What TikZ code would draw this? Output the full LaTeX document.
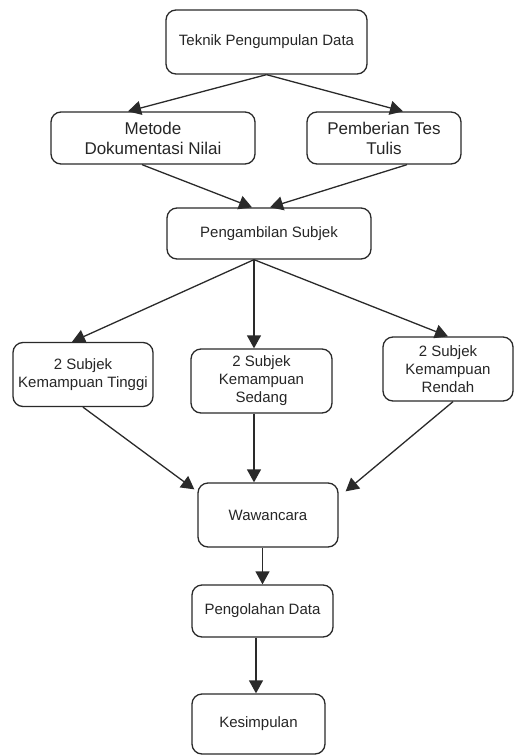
\documentclass[tikz,border=0pt]{standalone}
\usepackage{fontspec}
\setmainfont{Liberation Sans}
\usepackage{tikz}
\usetikzlibrary{arrows.meta}
\definecolor{edgegray}{HTML}{2A2A2A}
\definecolor{txtgray}{HTML}{262626}

\begin{document}
\begin{tikzpicture}[x=1pt, y=-1pt, -{Triangle[length=13pt,width=14pt]}, line width=1.3pt, draw=edgegray]
	\useasboundingbox (0,0) rectangle (514,756);
	\tikzstyle{box}=[rectangle, rounded corners=10pt, draw=edgegray, line width=1.3pt, fill=white, align=center, inner sep=2pt, text=txtgray, font=\fontsize{15}{18}\selectfont]
	\tikzstyle{big}=[font=\fontsize{17}{20}\selectfont]
	% top part
	\node[box, minimum width=201pt, minimum height=64pt] (teknik) at (266.5,42) {Teknik Pengumpulan Data};
	\node[box, big, minimum width=204pt, minimum height=52pt] (metode) at (153,138) {Metode\\Dokumentasi Nilai};
	\node[box, big, minimum width=154pt, minimum height=52pt] (tes) at (384,138) {Pemberian Tes\\Tulis};
	\path (teknik.south) edge ([xshift=-25pt]metode.north);
	\path (teknik.south) edge ([xshift=19pt]tes.north);
	\node[box, minimum width=204pt, minimum height=51pt] (ambil) at (269,233.5) {Pengambilan Subjek};
	\path ([xshift=-11pt]metode.south) edge ([xshift=-17pt]ambil.north);
	\path ([xshift=23pt]tes.south) edge ([xshift=1pt]ambil.north);
	% subjek
	\foreach \i/\x/\y/\w/\txt/\s in {1/83/374.5/140/{Kemampuan Tinggi}/-11, 2/261.5/381/141/{Kemampuan\\Sedang}/-7.5, 3/448/369/130/{Kemampuan\\Rendah}/0} {
	    \node[box, minimum width=\w pt, minimum height=64pt] (s\i) at (\x,\y) {2 Subjek\\\txt};
	    \path ([xshift=-15pt]ambil.south) edge ([xshift=\s pt]s\i.north);
	}
	\node[box, minimum width=140pt, minimum height=64pt] (wawan) at (268,515) {Wawancara};
	\path (s1.south) edge ([xshift=-3pt,yshift=-7pt]wawan.north west);
	\path ([xshift=-7.5pt]s2.south) edge ([xshift=-14pt]wawan.north);
	\path ([xshift=5pt]s3.south) edge ([xshift=7pt,yshift=-9pt]wawan.north east);
	% bottom part
	\node[box, minimum width=141pt, minimum height=52pt] (olah) at (262.5,611) {Pengolahan Data};
	\node[box, minimum width=133pt, minimum height=60pt] (simpul) at (258.5,724) {Kesimpulan};
	\path ([xshift=-5.5pt]wawan.south) edge (olah.north);
	\path ([xshift=-6.5pt]olah.south) edge ([xshift=-2.5pt]simpul.north);
\end{tikzpicture}
\end{document}
